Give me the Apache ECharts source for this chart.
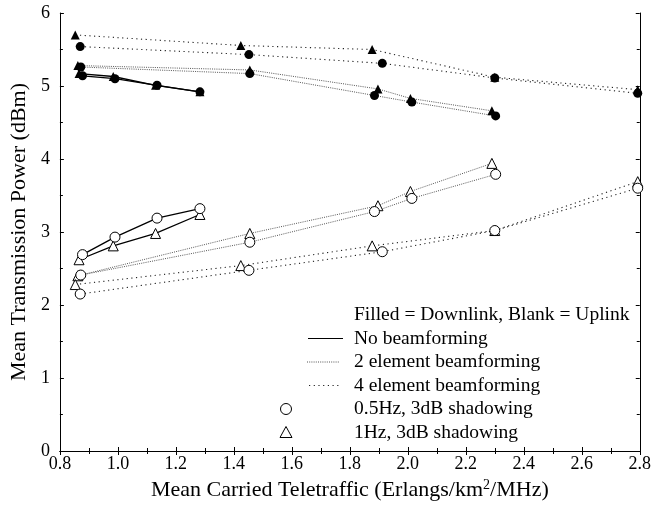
<!DOCTYPE html>
<html>
<head>
<meta charset="UTF-8">
<title>Mean Transmission Power</title>
<script src="https://cdn.jsdelivr.net/npm/echarts@6/dist/echarts.min.js"></script>
<style>
  html, body { margin: 0; padding: 0; background: #fff; }
  #chart { width: 654px; height: 513px; }
</style>
</head>
<body>
<div id="chart"></div>
<script>
// x positions (Erlangs/km2/MHz)
const xNoBfCirc = [0.878, 0.99, 1.135, 1.283];
const xNoBfTri = [0.866, 0.984, 1.13, 1.283];
const x2elCirc = [0.872, 1.455, 1.885, 2.014, 2.303];
const x2elTri = [0.862, 1.455, 1.897, 2.009, 2.29];
const x4elCirc = [0.870, 1.452, 1.912, 2.30, 2.793];
const x4elTri = [0.853, 1.424, 1.877, 2.30, 2.793];

// downlink (filled markers), dBm
const dlNoBfCirc = [5.14, 5.10, 5.01, 4.92];
const dlNoBfTri = [5.17, 5.13, 5.01, 4.92];
const dl2elCirc = [5.26, 5.17, 4.87, 4.78, 4.59];
const dl2elTri = [5.28, 5.22, 4.96, 4.83, 4.66];
const dl4elCirc = [5.54, 5.43, 5.31, 5.11, 4.90];
const dl4elTri = [5.70, 5.555, 5.50, 5.12, 4.95];

// uplink (blank markers), dBm
const ulNoBfCirc = [2.69, 2.93, 3.19, 3.32];
const ulNoBfTri = [2.62, 2.81, 2.98, 3.24];
const ul2elCirc = [2.41, 2.86, 3.28, 3.46, 3.79];
const ul2elTri = [2.40, 2.98, 3.36, 3.555, 3.94];
const ul4elCirc = [2.15, 2.475, 2.73, 3.02, 3.60];
const ul4elTri = [2.28, 2.54, 2.81, 3.02, 3.69];

const FONT = '"Liberation Serif", "DejaVu Serif", serif';

const lineStyles = {
  none: { color: '#000', width: 1.3, type: 'solid' },
  el2: { color: '#555', width: 1, type: [1, 1.2] },
  el4: { color: '#222', width: 1.1, type: [1.2, 3.5] }
};

function pairs(xs, ys) {
  return xs.map((x, i) => [x, ys[i]]);
}

function mk(xs, ys, shape, filled, style) {
  return {
    type: 'line',
    data: pairs(xs, ys),
    symbol: shape,
    symbolSize: filled ? 9 : 10,
    showSymbol: true,
    lineStyle: style,
    itemStyle: {
      color: filled ? '#000' : '#fff',
      borderColor: '#000',
      borderWidth: filled ? 0 : 1
    },
    z: filled ? 3 : 4,
    animation: false
  };
}

const series = [
  mk(xNoBfTri, dlNoBfTri, 'triangle', true, lineStyles.none),
  mk(xNoBfCirc, dlNoBfCirc, 'circle', true, lineStyles.none),
  mk(x2elTri, dl2elTri, 'triangle', true, lineStyles.el2),
  mk(x2elCirc, dl2elCirc, 'circle', true, lineStyles.el2),
  mk(x4elTri, dl4elTri, 'triangle', true, lineStyles.el4),
  mk(x4elCirc, dl4elCirc, 'circle', true, lineStyles.el4),
  mk(xNoBfTri, ulNoBfTri, 'triangle', false, lineStyles.none),
  mk(xNoBfCirc, ulNoBfCirc, 'circle', false, lineStyles.none),
  mk(x2elTri, ul2elTri, 'triangle', false, lineStyles.el2),
  mk(x2elCirc, ul2elCirc, 'circle', false, lineStyles.el2),
  mk(x4elTri, ul4elTri, 'triangle', false, lineStyles.el4),
  mk(x4elCirc, ul4elCirc, 'circle', false, lineStyles.el4)
];

// hand-made legend
const legendTexts = [
  'Filled = Downlink, Blank = Uplink',
  'No beamforming',
  '2 element beamforming',
  '4 element beamforming',
  '0.5Hz, 3dB shadowing',
  '1Hz, 3dB shadowing'
];
const legX = 354, legY0 = 315, legStep = 23.5;
const graphic = legendTexts.map((t, i) => ({
  type: 'text',
  x: legX, y: legY0 + i * legStep,
  style: { text: t, font: '19.5px ' + FONT, fill: '#000', verticalAlign: 'middle' }
}));
graphic.push(
  { type: 'line', shape: { x1: 308, y1: legY0 + legStep, x2: 343, y2: legY0 + legStep },
    style: { stroke: '#000', lineWidth: 1.2 } },
  { type: 'line', shape: { x1: 307, y1: legY0 + 2 * legStep, x2: 339, y2: legY0 + 2 * legStep },
    style: { stroke: '#555', lineWidth: 1, lineDash: [1, 1.2] } },
  { type: 'line', shape: { x1: 309, y1: legY0 + 3 * legStep, x2: 339, y2: legY0 + 3 * legStep },
    style: { stroke: '#222', lineWidth: 1.1, lineDash: [1.2, 3.5] } },
  { type: 'circle', shape: { cx: 286, cy: legY0 + 4 * legStep, r: 5.5 },
    style: { fill: '#fff', stroke: '#000', lineWidth: 1 } },
  { type: 'polygon', shape: { points: [[286, legY0 + 5 * legStep - 6], [280, legY0 + 5 * legStep + 5], [292, legY0 + 5 * legStep + 5]] },
    style: { fill: '#fff', stroke: '#000', lineWidth: 1 } }
);

const tickCommon = {
  axisLine: { show: true, lineStyle: { color: '#000', width: 1 } },
  axisTick: { show: true, inside: true, length: 4, lineStyle: { color: '#000' } },
  minorTick: { show: true, splitNumber: 2, length: 3, lineStyle: { color: '#000' } },
  splitLine: { show: false }
};

const chart = echarts.init(document.getElementById('chart'), null, { renderer: 'canvas' });
chart.setOption({
  backgroundColor: '#fff',
  animation: false,
  grid: { left: 58, right: 12, top: 13, bottom: 62 },
  xAxis: [
    Object.assign({
      type: 'value', min: 0.8, max: 2.8, interval: 0.2, position: 'bottom',
      name: 'Mean Carried Teletraffic (Erlangs/km{sup|2}/MHz)',
      nameLocation: 'middle', nameGap: 26,
      nameTextStyle: {
        fontFamily: FONT, fontSize: 22, color: '#000',
        rich: { sup: { fontFamily: FONT, fontSize: 14, color: '#000', verticalAlign: 'top', padding: [0, 0, 10, 0] } }
      },
      axisLabel: { fontFamily: FONT, fontSize: 18, color: '#000', margin: 4, formatter: v => v.toFixed(1) }
    }, tickCommon),
    Object.assign({
      type: 'value', min: 0.8, max: 2.8, interval: 0.2, position: 'top',
      axisLabel: { show: false }
    }, tickCommon)
  ],
  yAxis: [
    Object.assign({
      type: 'value', min: 0, max: 6, interval: 1, position: 'left',
      name: 'Mean Transmission Power (dBm)',
      nameLocation: 'middle', nameGap: 28,
      nameTextStyle: { fontFamily: FONT, fontSize: 22, color: '#000' },
      axisLabel: { fontFamily: FONT, fontSize: 18, color: '#000', margin: 10 }
    }, tickCommon),
    Object.assign({
      type: 'value', min: 0, max: 6, interval: 1, position: 'right',
      axisLabel: { show: false }
    }, tickCommon)
  ],
  graphic: graphic,
  series: series
});
</script>
</body>
</html>
